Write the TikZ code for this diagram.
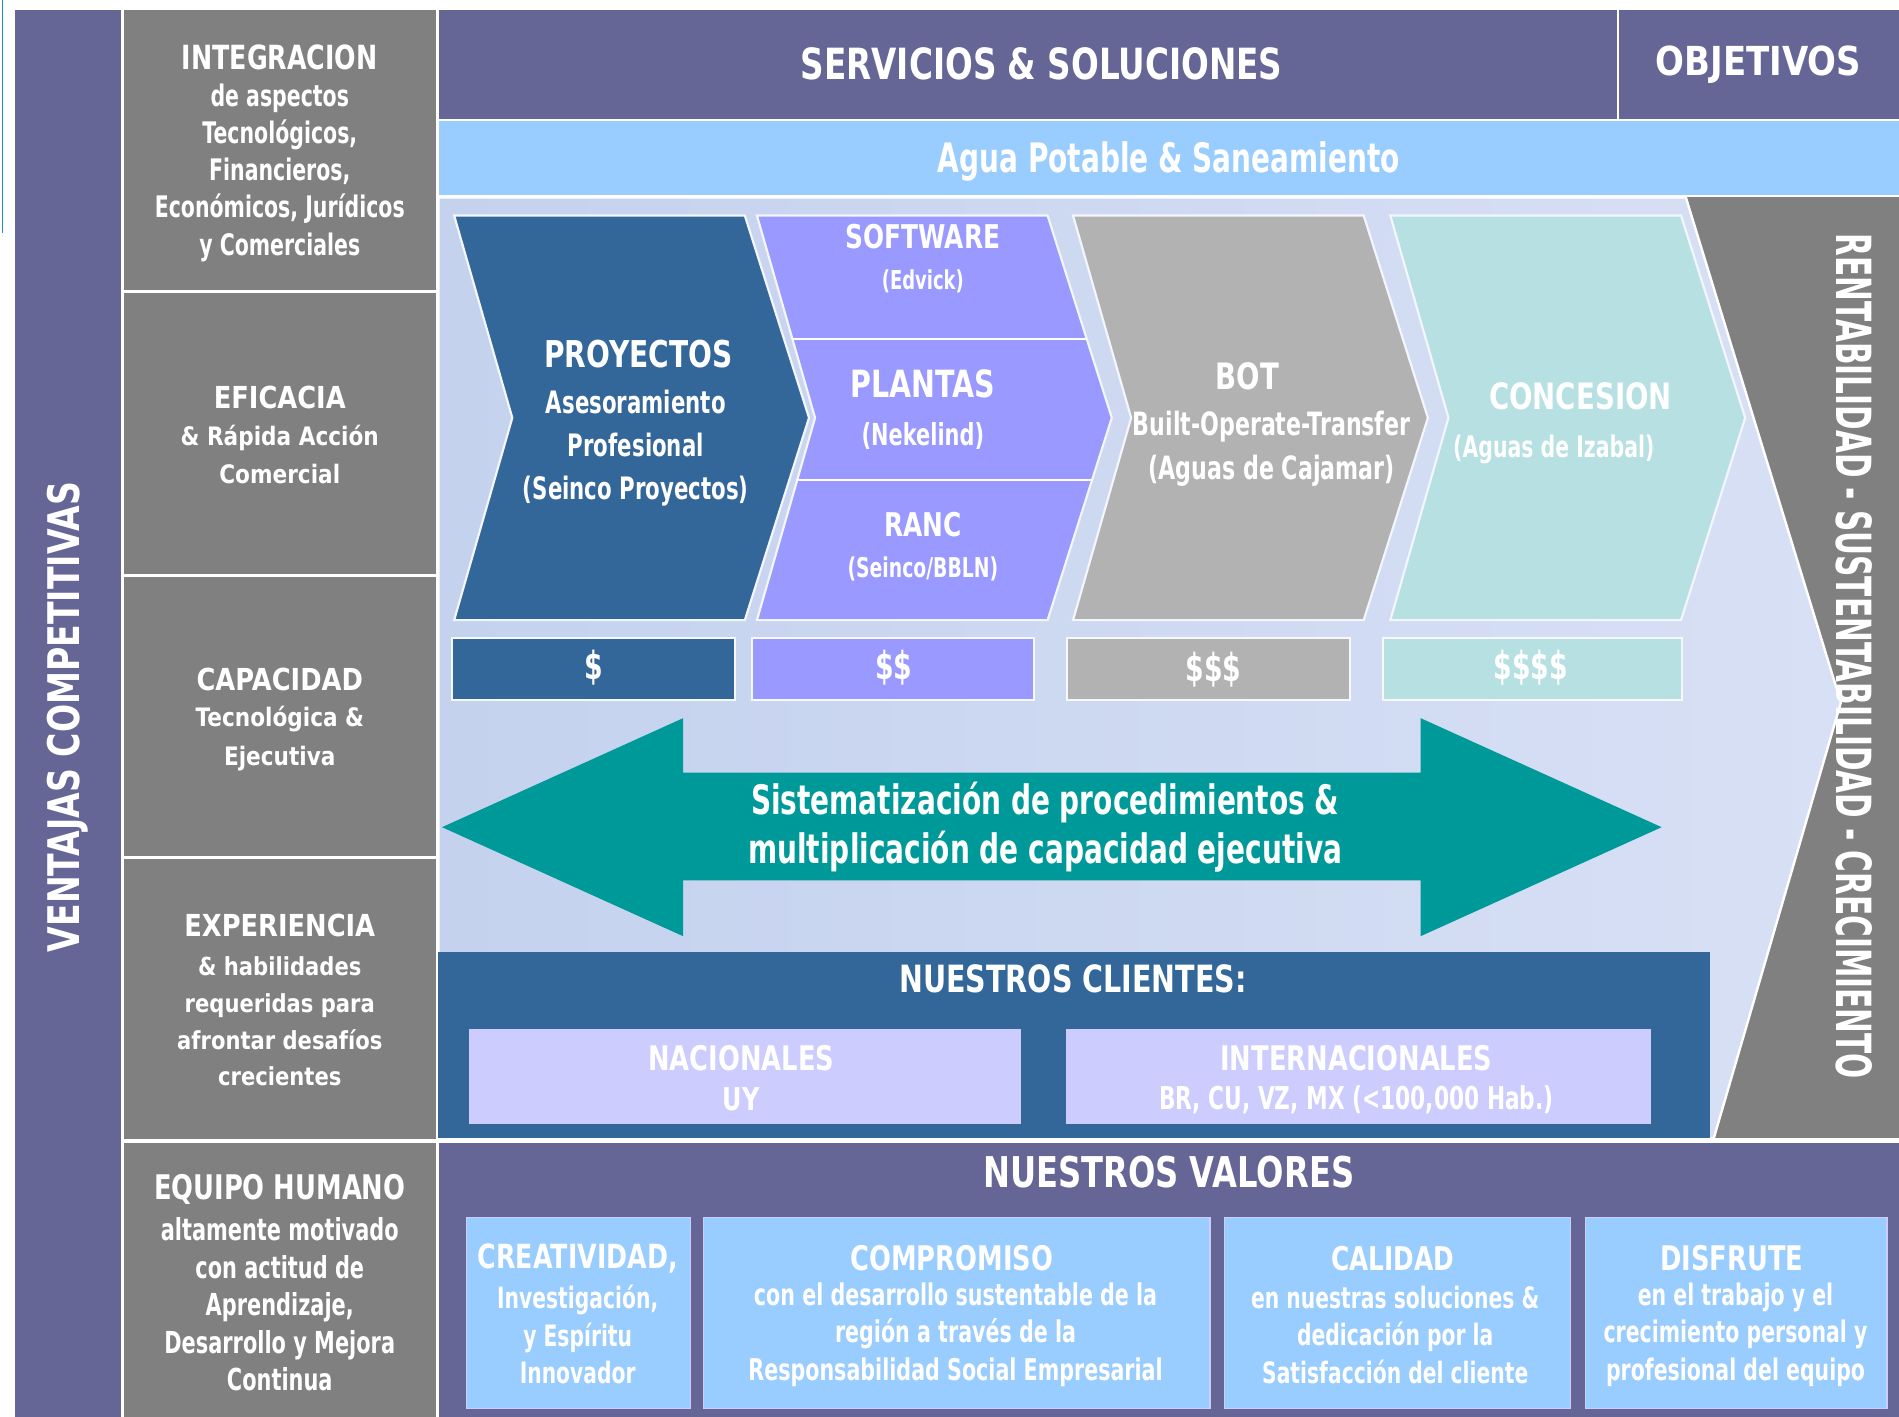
\documentclass[tikz,border=0pt]{standalone}
\usepackage{fontspec}
\setmainfont{DejaVu Sans}
\newfontfamily\CondF{DejaVu Sans Bold}[FakeStretch=0.69]
\newfontfamily\CondU{DejaVu Sans Bold}[FakeStretch=0.76]
\newfontfamily\CondG{DejaVu Sans Bold}[FakeStretch=0.61]
\newfontfamily\WideF{DejaVu Sans Bold}[FakeStretch=0.85]
\newcommand\Cf[2]{\CondF\fontsize{#1}{#2}\selectfont}
\newcommand\Uf[2]{\CondU\fontsize{#1}{#2}\selectfont}
\newcommand\Gf[2]{\CondG\fontsize{#1}{#2}\selectfont}
\newcommand\Wf[2]{\WideF\fontsize{#1}{#2}\selectfont}
\definecolor{purp}{RGB}{101,101,150}
\definecolor{gry}{RGB}{128,128,128}
\definecolor{skyb}{RGB}{153,204,255}
\definecolor{bgL}{RGB}{196,210,238}
\definecolor{bgR}{RGB}{216,224,245}
\definecolor{dblue}{RGB}{51,102,153}
\definecolor{viol}{RGB}{153,153,255}
\definecolor{lgray}{RGB}{178,178,178}
\definecolor{cyanl}{RGB}{182,224,226}
\definecolor{teal}{RGB}{0,153,153}
\definecolor{lav}{RGB}{204,204,255}
\definecolor{blueline}{RGB}{30,140,200}
\newcommand\chev[1]{(#1,178) -- ++(240,0) -- ++(53,167) -- ++(-53,167) -- ++(-240,0) -- ++(48,-167) -- cycle}
\begin{document}
\begin{tikzpicture}[x=1pt,y=-1pt,
  every node/.style={inner sep=0pt, outer sep=0pt},
  wt/.style={text=white, align=center},
  chevst/.style={draw=white!80!bgL, line width=1.8pt},
  pricebox/.style={draw=white!85!bgL, line width=1.5pt},
  valbox/.style={fill=skyb, draw=lav, line width=1pt},
  sep/.style={draw=white, line width=2.5pt}]
\useasboundingbox (0,0) rectangle (1568,1170);
\fill[white] (0,0) rectangle (1568,1170);
\draw[blueline, line width=1.5pt] (2,0) -- (2,192);
% left columns
\fill[purp] (12,8) rectangle (100,1170);
\fill[gry] (102,8) rectangle (360,1170);
% header bands
\fill[purp] (362,8) rectangle (1568,98);
\fill[skyb] (362,100) rectangle (1568,161);
% objectives column and light area
\fill[gry] (1392,163) rectangle (1568,940);
\path[left color=bgL, right color=bgR, draw=white, line width=2pt] (362,163) -- (1392,163) -- (1520,580) -- (1415,940) -- (362,940) -- cycle;
% bottom band
\fill[purp] (362,944) rectangle (1568,1170);
% separators
\draw[sep] (101,8) -- (101,1170);
\draw[sep] (361,8) -- (361,1170);
\draw[sep] (101,241) -- (361,241);
\draw[sep] (101,475) -- (361,475);
\draw[sep] (101,708) -- (361,708);
\draw[white, line width=3.5pt] (101,942) -- (1568,942);
\draw[white, line width=2pt] (362,99) -- (1568,99);
\draw[white, line width=2pt] (362,162) -- (1568,162);
\draw[white, line width=2pt] (1336,8) -- (1336,98);

% chevrons
\filldraw[fill=dblue, chevst] \chev{375};
\filldraw[fill=viol, chevst] \chev{625};
\begin{scope}
\clip \chev{625};
\draw[white, line width=1.5pt] (600,280) -- (950,280);
\draw[white, line width=1.5pt] (600,396) -- (950,396);
\end{scope}
\filldraw[fill=lgray, chevst] \chev{886};
\filldraw[fill=cyanl, chevst] \chev{1148};

% price boxes
\filldraw[fill=dblue, pricebox] (373,527) rectangle (607,578);
\filldraw[fill=viol, pricebox] (621,527) rectangle (854,578);
\filldraw[fill=lgray, pricebox] (881,527) rectangle (1115,578);
\filldraw[fill=cyanl, pricebox] (1142,527) rectangle (1389,578);

% double arrow
\fill[teal] (365,683) -- (564,593) -- (564,638) -- (1173,638) -- (1173,593) -- (1372,683) -- (1173,773) -- (1173,727) -- (564,727) -- (564,773) -- cycle;

% clients
\fill[dblue] (362,786) rectangle (1412,940);
\fill[lav] (387,850) rectangle (843,928);
\fill[lav] (880,850) rectangle (1363,928);

% values boxes
\filldraw[valbox] (385,1005) rectangle (570,1163);
\filldraw[valbox] (581,1005) rectangle (999,1163);
\filldraw[valbox] (1011,1005) rectangle (1297,1163);
\filldraw[valbox] (1309,1005) rectangle (1558,1163);

% ---------- texts ----------
\node[wt, rotate=90, font=\Uf{36}{36}] (vent) at (56,592) {VENTAJAS COMPETITIVAS};
\node[wt, font=\Uf{35.5}{35.5}] (serv) at (860,53) {SERVICIOS \& SOLUCIONES};
\node[wt, font=\Wf{33}{33}] (obj) at (1452,53) {OBJETIVOS};
\node[wt, font=\Cf{33.5}{33.5}] (agua) at (965,133) {Agua Potable \& Saneamiento};

\node[wt, font=\Uf{27.5}{27.5}] (int1) at (231,47) {INTEGRACION};
\node[wt, font=\Cf{24.5}{30.75}] (int2) at (231,142.5) {de aspectos\\Tecnológicos,\\Financieros,\\Económicos, Jurídicos\\y Comerciales};
\node[wt, font=\Wf{25}{25}] (efi1) at (231,328) {EFICACIA};
\node[wt, font=\Wf{21}{31}] (efi2) at (231,375.5) {\& Rápida Acción\\Comercial};
\node[wt, font=\Wf{25}{25}] (cap1) at (231,561) {CAPACIDAD};
\node[wt, font=\Wf{21}{32}] (cap2) at (231,610) {Tecnológica \&\\Ejecutiva};
\node[wt, font=\Wf{25}{25}] (exp1) at (231,764) {EXPERIENCIA};
\node[wt, font=\Wf{20.5}{30.3}] (exp2) at (231,843.5) {\& habilidades\\requeridas para\\afrontar desafíos\\crecientes};
\node[wt, font=\Uf{28}{28}] (eq1) at (231,982) {EQUIPO HUMANO};
\node[wt, font=\Cf{25}{31}] (eq2) at (231,1077) {altamente motivado\\con actitud de\\Aprendizaje,\\Desarrollo y Mejora\\Continua};

\node[wt, font=\Uf{30.5}{30.5}] (proy1) at (527,292) {PROYECTOS};
\node[wt, font=\Cf{25.5}{35.5}] (proy2) at (525,370) {Asesoramiento\\Profesional\\(Seinco Proyectos)};
\node[wt, font=\Uf{27}{27}] (soft1) at (762,195) {SOFTWARE};
\node[wt, font=\Cf{21.5}{21.5}] (soft2) at (762,232) {(Edvick)};
\node[wt, font=\Uf{31}{31}] (pla1) at (762,317) {PLANTAS};
\node[wt, font=\Cf{25}{25}] (pla2) at (762,360) {(Nekelind)};
\node[wt, font=\Uf{27}{27}] (ranc1) at (762,433) {RANC};
\node[wt, font=\Cf{22.5}{22.5}] (ranc2) at (762,470) {(Seinco/BBLN)};
\node[wt, font=\Uf{30}{30}] (bot1) at (1030,311) {BOT};
\node[wt, font=\Cf{26.5}{37}] (bot2) at (1050,370.5) {Built-Operate-Transfer\\(Aguas de Cajamar)};
\node[wt, font=\Uf{30}{30}] (con1) at (1305,327) {CONCESION};
\node[wt, font=\Cf{24.5}{24.5}] (con2) at (1283,371) {(Aguas de Izabal)};

\node[wt, font=\Cf{32}{32}] (p1) at (490,551) {\$};
\node[wt, font=\Cf{32}{32}] (p2) at (738,551) {\$\$};
\node[wt, font=\Cf{32}{32}] (p3) at (1002,553) {\$\$\$};
\node[wt, font=\Cf{32}{32}] (p4) at (1264,551) {\$\$\$\$};

\node[wt, font=\Cf{33.5}{41}] (sist) at (863,683) {Sistematización de procedimientos \&\\multiplicación de capacidad ejecutiva};

\node[wt, font=\Uf{31}{31}] (cli) at (886,808) {NUESTROS CLIENTES:};
\node[wt, font=\Uf{28}{28}] (nac1) at (612,874) {NACIONALES};
\node[wt, font=\Uf{26}{26}] (nac2) at (612,908) {UY};
\node[wt, font=\Uf{28}{28}] (intl1) at (1120,874) {INTERNACIONALES};
\node[wt, font=\Cf{26}{26}] (intl2) at (1120,908) {BR, CU, VZ, MX (<100,000 Hab.)};

\node[wt, font=\Uf{35}{35}] (val) at (965,968) {NUESTROS VALORES};
\node[wt, font=\Uf{27.5}{27.5}] (v1t) at (477,1039) {CREATIVIDAD,};
\node[wt, font=\Cf{24.3}{31}] (v1b) at (477,1102) {Investigación,\\y Espíritu\\Innovador};
\node[wt, font=\Uf{28}{28}] (v2t) at (786,1039) {COMPROMISO};
\node[wt, font=\Cf{24.7}{31}] (v2b) at (789,1102) {con el desarrollo sustentable de la\\región a través de la\\Responsabilidad Social Empresarial};
\node[wt, font=\Uf{27}{27}] (v3t) at (1150,1039) {CALIDAD};
\node[wt, font=\Cf{24.3}{31}] (v3b) at (1152,1102) {en nuestras soluciones \&\\dedicación  por la\\Satisfacción del cliente};
\node[wt, font=\Uf{28}{28}] (v4t) at (1430,1039) {DISFRUTE};
\node[wt, font=\Cf{24.5}{31}] (v4b) at (1433,1102) {en el trabajo y el\\crecimiento personal y\\profesional del equipo};

\node[wt, rotate=-90, font=\Gf{40}{40}] (rent) at (1531,542) {RENTABILIDAD - SUSTENTABILIDAD - CRECIMIENTO};
\end{tikzpicture}
\end{document}
